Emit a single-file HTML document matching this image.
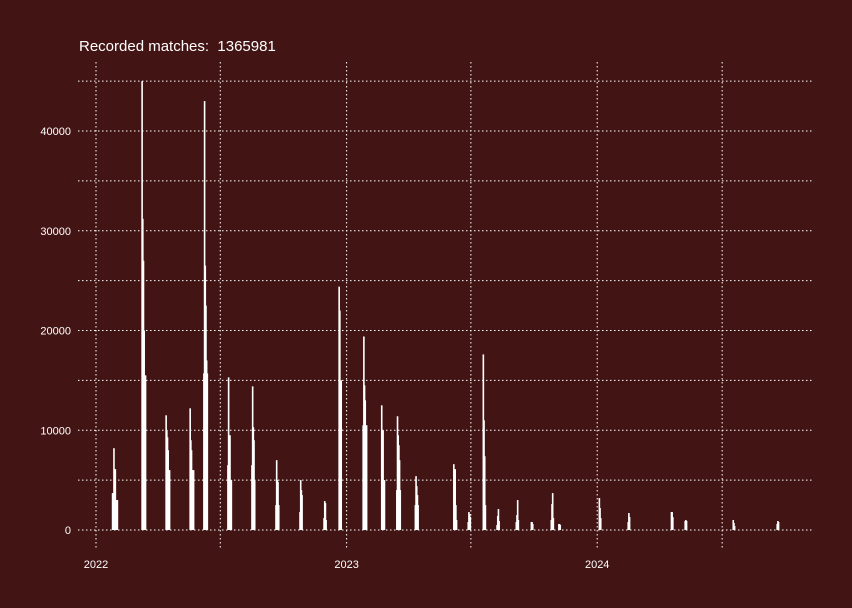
<!DOCTYPE html>
<html><head><meta charset="utf-8"><style>
body{margin:0;background:#431414;}
svg{display:block;font-family:"Liberation Sans",sans-serif;}
</style></head><body>
<svg id="chart" width="852" height="608">
<rect width="852" height="608" fill="#431414"/>
<text x="79" y="51" fill="#ffffff" font-size="15" xml:space="preserve" style="white-space:pre">Recorded matches:  1365981</text>
<g id="grid"></g><g id="bars"></g><g id="axes"></g>
</svg>
<script>
const clusterStartDays=[23,66,101,136,156,191,226,261,296,331,353,388,415,437,464,520,541,563,583,611,633,662,673,732,774,837,857,927,991];
const clusterValues=[
[3700,3700,8200,6100,6100,3000,3000,3000],
[45000,31200,27000,20000,15500,15500],
[11500,10000,9300,8000,6000,6000],
[12200,9000,8000,6000,6000,6000],
[15700,43000,26500,22500,17000,15700],
[6500,15300,9500,9500,5000,5000],
[6500,14400,10300,9000,5000],
[2500,7000,5000,4800,2500],
[1800,5000,4000,3500],
[1200,2900,2700,1000],
[24400,22000,15000,15000],
[10500,19400,14500,13000,10500,10500],
[12500,10000,10000,5000,5000],
[4000,11400,9500,8500,7000,4000],
[2500,5400,4400,3500,2500],
[6600,6000,6100,2500,1000],
[800,1800,1600,1300],
[17600,11000,7400,2500],
[500,1400,2100,900],
[800,1500,3000,1000],
[800,800,600],
[1000,2600,3700,1200],
[600,600,500],
[3200,2200,1200],
[800,1700,1300],
[1800,1800,1300],
[900,1000,900],
[1000,700,400],
[600,900,800]];
const yTicks=[0,10000,20000,30000,40000];
const yMinor=[5000,15000,25000,35000,45000];
const xTickDays=[0,365,730];
const xTickLabels=["2022","2023","2024"];
const xMinorDays=[181,546,912];

const NS="http://www.w3.org/2000/svg";
const dayW=250.6/365;
const X=d=>96+d*dayW;
const Y=v=>530-v*0.009975;
const T=62,B=548,R=812;
function el(tag,attrs,parent){const e=document.createElementNS(NS,tag);for(const k in attrs)e.setAttribute(k,attrs[k]);parent.appendChild(e);return e;}
const grid=document.getElementById('grid'),bars=document.getElementById('bars'),axes=document.getElementById('axes');
const gs={stroke:"#ffffff","stroke-width":1,"stroke-dasharray":"1.5,2.5"};
yTicks.concat(yMinor).forEach(v=>{
  const l=el('line',Object.assign({x1:78,x2:R,y1:Y(v),y2:Y(v)},gs),grid);
  
  
});
xTickDays.concat(xMinorDays).forEach(d=>{
  const l=el('line',Object.assign({x1:X(d),x2:X(d),y1:T,y2:B},gs),grid);
  
  
});
clusterStartDays.forEach((s,i)=>{
  clusterValues[i].forEach((v,j)=>{
    const x=X(s+j);
    const r=el('rect',{x:x,y:Y(v),width:1.6,height:530-Y(v),fill:"#ffffff"},bars);
    
    
  });
});
yTicks.forEach(v=>{
  const t=el('text',{x:71,y:Y(v)+4,"text-anchor":"end",fill:"#ffffff","font-size":11},axes);
  t.textContent=String(v);
  
  
});
xTickDays.forEach((d,i)=>{
  const t=el('text',{x:X(d),y:568,"text-anchor":"middle",fill:"#ffffff","font-size":11},axes);
  t.textContent=xTickLabels[i];
  
  
});
</script>
</body></html>
